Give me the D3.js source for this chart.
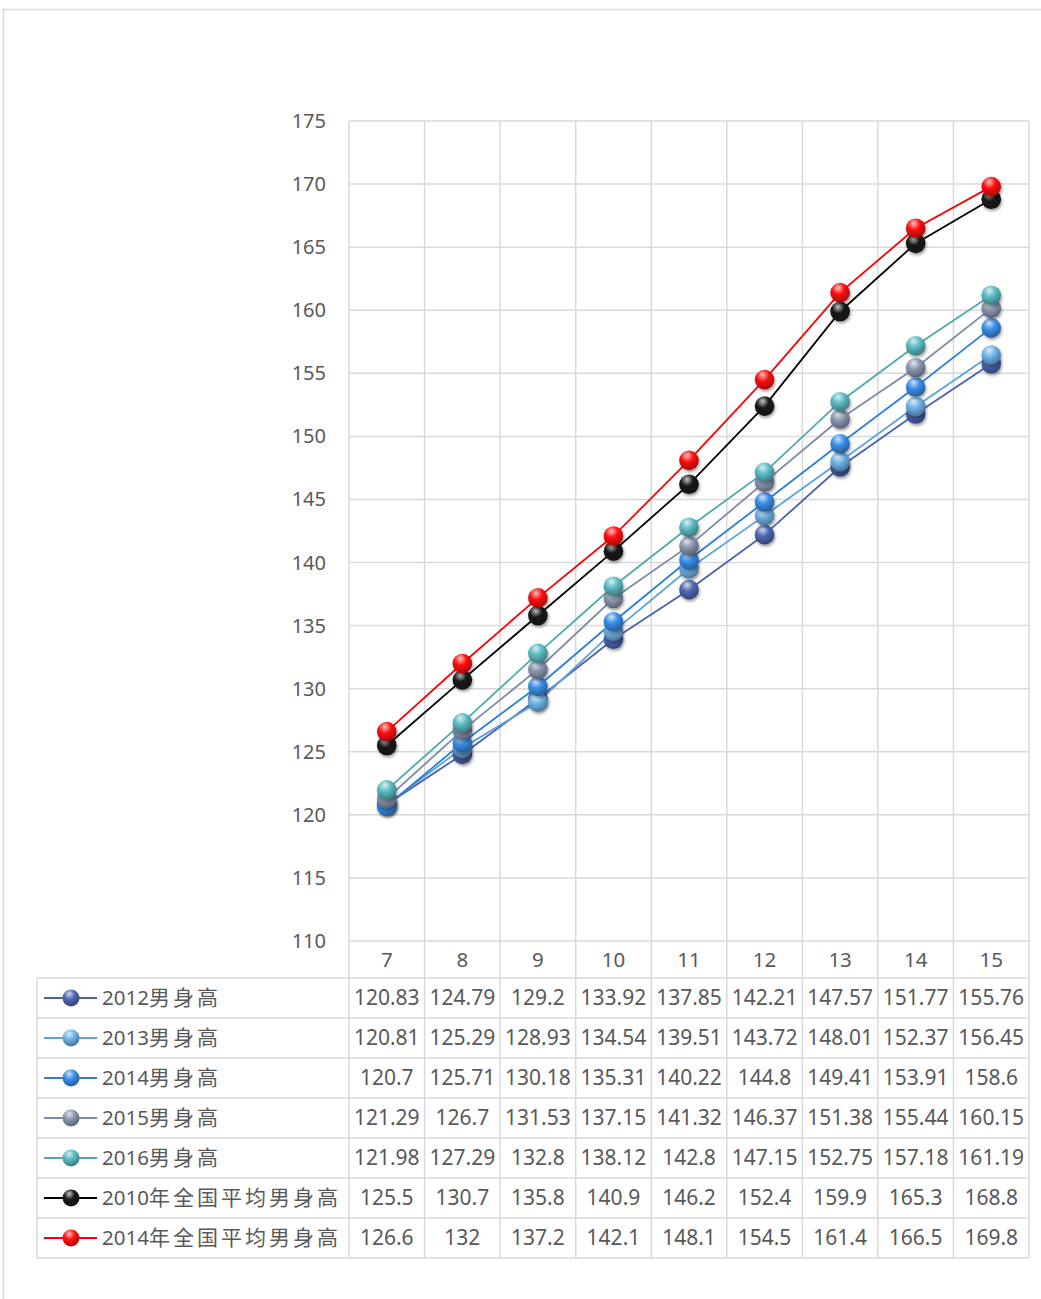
<!DOCTYPE html>
<html><head><meta charset="utf-8">
<script src="https://cdn.jsdelivr.net/npm/d3@7/dist/d3.min.js"></script>
<style>
html,body{margin:0;padding:0;background:#fff;}
svg text{font-family:"Noto Sans","Noto Sans CJK SC",sans-serif;fill:#595959;}
</style></head>
<body>
<svg id="chart" width="1041" height="1299"></svg>
<script>
const categories = ["7","8","9","10","11","12","13","14","15"];
const seriesNames = ["2012男身高","2013男身高","2014男身高","2015男身高","2016男身高","2010年全国平均男身高","2014年全国平均男身高"];
const s2012 = [120.83,124.79,129.2,133.92,137.85,142.21,147.57,151.77,155.76];
const s2013 = [120.81,125.29,128.93,134.54,139.51,143.72,148.01,152.37,156.45];
const s2014 = [120.7,125.71,130.18,135.31,140.22,144.8,149.41,153.91,158.6];
const s2015 = [121.29,126.7,131.53,137.15,141.32,146.37,151.38,155.44,160.15];
const s2016 = [121.98,127.29,132.8,138.12,142.8,147.15,152.75,157.18,161.19];
const n2010 = [125.5,130.7,135.8,140.9,146.2,152.4,159.9,165.3,168.8];
const n2014 = [126.6,132,137.2,142.1,148.1,154.5,161.4,166.5,169.8];
const yTicks = [110,115,120,125,130,135,140,145,150,155,160,165,170,175];
const lineColors = ["#4a62ad","#5ea2dc","#2c7fd6","#7d8aa6","#4ea8ad","#000000","#ff0000"];
const markerColors = ["#5068b4","#70b4e8","#3a8fe8","#8c97b2","#5cbcc4","#1a1a1a","#ff1010"];

const allSeries = [s2012,s2013,s2014,s2015,s2016,n2010,n2014];

const svg = d3.select("#chart");
const L = 349, R = 1029, T = 121, B = 941;
const x = d3.scaleBand().domain(categories).range([L,R]);
const y = d3.scaleLinear().domain([110,175]).range([B,T]);
const rowH = 40, headerBottom = 978;
const tableLeft = 37;
const tableBottom = headerBottom + rowH*seriesNames.length;
const grid = "#d9d9d9";

// outer border
svg.append("rect").attr("x",3.5).attr("y",9.5).attr("width",1060).attr("height",1300)
  .attr("fill","none").attr("stroke",grid).attr("stroke-width",1.5);

const defs = svg.append("defs");
markerColors.forEach((c,i)=>{
  const g = defs.append("radialGradient").attr("id","g"+i)
    .attr("cx","40%").attr("cy","30%").attr("r","70%").attr("fx","40%").attr("fy","25%");
  g.append("stop").attr("offset","0%").attr("stop-color",d3.interpolateRgb(c,"#fff")(0.75));
  g.append("stop").attr("offset","45%").attr("stop-color",c);
  g.append("stop").attr("offset","100%").attr("stop-color",d3.color(c).darker(1.2));
});
const f = defs.append("filter").attr("id","sh").attr("x","-50%").attr("y","-50%").attr("width","200%").attr("height","200%");
f.append("feDropShadow").attr("dx",1).attr("dy",2).attr("stdDeviation",1.5).attr("flood-color","#000").attr("flood-opacity",0.4);

// horizontal gridlines
svg.append("g").selectAll("line").data(yTicks).join("line")
  .attr("x1",L).attr("x2",R).attr("y1",d=>y(d)).attr("y2",d=>y(d))
  .attr("stroke",grid).attr("stroke-width",1.5);
// vertical grid (through table)
const xEdges = categories.map(c=>x(c)).concat([R]);
svg.append("g").selectAll("line").data(xEdges).join("line")
  .attr("x1",d=>d).attr("x2",d=>d).attr("y1",T).attr("y2",tableBottom)
  .attr("stroke",grid).attr("stroke-width",1.5);
// table horizontal lines
const rowLines = d3.range(seriesNames.length+1).map(i=>headerBottom+i*rowH);
svg.append("g").selectAll("line").data(rowLines).join("line")
  .attr("x1",tableLeft).attr("x2",R).attr("y1",d=>d).attr("y2",d=>d)
  .attr("stroke",grid).attr("stroke-width",1.5);
svg.append("line").attr("x1",tableLeft).attr("x2",tableLeft).attr("y1",headerBottom).attr("y2",tableBottom)
  .attr("stroke",grid).attr("stroke-width",1.5);

// y tick labels
svg.append("g").selectAll("text").data(yTicks).join("text")
  .attr("x",326).attr("y",d=>y(d)).attr("dy","0.35em").attr("text-anchor","end")
  .attr("font-size",20).text(d=>d);
// category labels
svg.append("g").selectAll("text").data(categories).join("text")
  .attr("x",d=>x(d)+x.bandwidth()/2).attr("y",(B+headerBottom)/2).attr("dy","0.35em")
  .attr("text-anchor","middle").attr("font-size",20.5).text(d=>d);

// lines & markers
const line = d3.line().x((d,i)=>x(categories[i])+x.bandwidth()/2).y(d=>y(d));
allSeries.forEach((s,i)=>{
  svg.append("path").attr("d",line(s)).attr("fill","none")
    .attr("stroke",lineColors[i]).attr("stroke-width",1.8);
});
allSeries.forEach((s,i)=>{
  svg.append("g").selectAll("circle").data(s).join("circle")
    .attr("cx",(d,j)=>x(categories[j])+x.bandwidth()/2).attr("cy",d=>y(d)).attr("r",9.8)
    .attr("fill",`url(#g${i})`).attr("filter","url(#sh)");
});

// table rows
seriesNames.forEach((name,i)=>{
  const cy = headerBottom + i*rowH + rowH/2;
  svg.append("line").attr("x1",44).attr("x2",97).attr("y1",cy).attr("y2",cy)
    .attr("stroke",lineColors[i]).attr("stroke-width",1.8);
  svg.append("circle").attr("cx",71).attr("cy",cy).attr("r",8.5).attr("fill",`url(#g${i})`);
  const m = name.match(/^(\d+)(.*)$/);
  const t = svg.append("text").attr("x",102).attr("y",cy).attr("dy","0.35em").attr("font-size",20.5);
  t.append("tspan").text(m[1]);
  t.append("tspan").attr("font-size",21).attr("letter-spacing","3px").text(m[2]);
  svg.append("g").selectAll("text").data(allSeries[i]).join("text")
    .attr("x",(d,j)=>x(categories[j])+x.bandwidth()/2).attr("y",cy).attr("dy","0.35em")
    .attr("text-anchor","middle").attr("font-size",21).text(d=>d);
});
</script>
</body></html>
